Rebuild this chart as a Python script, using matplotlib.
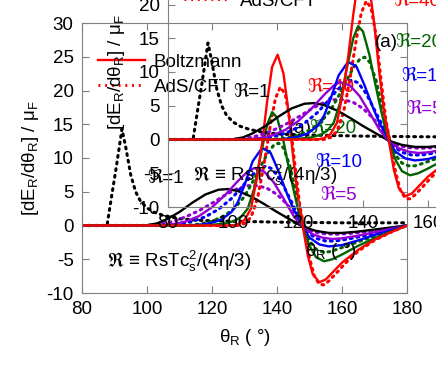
import numpy as np
import matplotlib
matplotlib.use("Agg")
import matplotlib.pyplot as plt

plt.rcParams['font.family'] = ['Liberation Sans', 'DejaVu Sans']
plt.rcParams['mathtext.fontset'] = 'custom'
plt.rcParams['mathtext.rm'] = 'Liberation Sans'
plt.rcParams['mathtext.it'] = 'Liberation Sans'
plt.rcParams['mathtext.fallback'] = 'stixsans'
plt.rcParams['axes.unicode_minus'] = False

# Boltzmann (solid)
x_b1 = [80, 95, 100, 103, 106, 110, 114, 118, 122, 125, 128, 132, 136, 140, 144, 148, 152, 156, 160, 165, 170, 175, 180]
y_b1 = [0, 0, 0.05, 0.3, 0.9, 2.0, 3.4, 4.6, 5.3, 5.4, 5.1, 4.3, 3.2, 2.0, 0.9, -0.2, -0.8, -1.1, -1.1, -0.9, -0.6, -0.3, 0]
x_b5 = [80, 104, 108, 112, 116, 120, 124, 128, 131, 133, 136, 139, 142, 145, 148, 151, 154, 157, 160, 165, 170, 175, 180]
y_b5 = [0, 0, 0.2, 0.6, 1.4, 2.7, 4.5, 6.6, 8.0, 8.5, 8.0, 6.4, 4.0, 1.5, -0.3, -1.3, -1.8, -2.0, -1.9, -1.5, -1.0, -0.5, 0]
x_b10 = [80, 112, 116, 120, 123, 126, 128, 130, 132.5, 135.4, 138, 140.5, 143, 145, 147, 148, 150, 153, 156, 160, 165, 170, 175, 180]
y_b10 = [0, 0, 0.1, 0.4, 0.9, 2.0, 3.5, 6.0, 9.5, 11.5, 10.8, 8.0, 4.8, 2.5, 0.8, -0.3, -1.8, -2.8, -3.1, -2.9, -2.2, -1.4, -0.7, 0]
x_b20 = [80, 116, 120, 124, 127, 129, 131, 133, 135, 137, 138.5, 140, 142, 143, 145, 147, 148, 150, 152, 154.5, 157, 160, 165, 170, 175, 180]
y_b20 = [0, 0, 0.1, 0.3, 0.7, 1.3, 2.5, 5.5, 10.5, 15.0, 16.8, 16.0, 12.5, 10.0, 5.5, 1.3, -0.3, -3.0, -4.7, -5.3, -5.0, -4.3, -3.0, -1.9, -0.9, 0]
x_b40 = [80, 126, 128, 130, 132, 134, 135.5, 137, 138.5, 140.2, 142, 143.5, 145, 146.5, 148, 149.5, 151, 153, 155, 157, 160, 165, 170, 175, 180]
y_b40 = [0, 0, 0.2, 0.8, 2.5, 7.5, 12.5, 18.5, 23.5, 25.3, 22.5, 17.0, 10.0, 4.0, -0.3, -4.5, -7.2, -8.4, -8.0, -7.0, -5.5, -3.6, -2.1, -1.0, 0]

# AdS/CFT (dotted)
x_a1 = [80, 87.7, 89, 90.5, 92.3, 93.5, 95, 96.5, 98, 100, 102, 105, 110, 115, 120, 130, 140, 150, 160, 170, 180]
y_a1 = [0, 0, 4, 8.5, 14.3, 11.5, 7.5, 5.0, 3.6, 2.6, 2.0, 1.5, 1.0, 0.8, 0.7, 0.6, 0.5, 0.45, 0.4, 0.4, 0.4]
x_a5 = [80, 100, 104, 108, 112, 116, 120, 124, 128, 131, 134, 137, 140, 143, 146, 148.3, 151, 154, 158, 162, 166, 170, 175, 180]
y_a5 = [0, 0, 0.2, 0.6, 1.3, 2.2, 3.3, 4.5, 5.5, 5.9, 5.9, 5.5, 4.6, 3.2, 1.4, -0.3, -0.9, -1.2, -1.3, -1.2, -1.0, -0.8, -0.4, 0]
x_a10 = [80, 106, 110, 114, 118, 122, 126, 129, 132, 134.5, 136.5, 138.5, 141, 143, 145, 147, 148.3, 150, 152, 155, 158, 162, 166, 170, 175, 180]
y_a10 = [0, 0, 0.2, 0.6, 1.3, 2.4, 4.0, 5.6, 7.3, 8.4, 8.8, 8.4, 6.8, 4.9, 3.0, 1.0, -0.3, -1.2, -1.9, -2.3, -2.3, -2.0, -1.6, -1.2, -0.6, 0]
x_a20 = [80, 112, 116, 120, 124, 127, 130, 133, 135, 137, 139, 140.5, 142, 144, 146, 148.3, 150, 152, 154, 156, 158, 161, 165, 170, 175, 180]
y_a20 = [0, 0, 0.2, 0.6, 1.5, 2.6, 4.3, 6.9, 8.8, 10.6, 11.9, 12.2, 11.5, 8.8, 4.6, -0.3, -2.3, -3.5, -3.9, -3.9, -3.6, -3.1, -2.4, -1.6, -0.8, 0]
x_a40 = [80, 128, 130, 132, 134, 136, 138, 139.5, 141, 142.5, 144, 145.5, 147, 148.3, 150, 151.5, 153, 154.5, 156, 158, 161, 165, 170, 175, 180]
y_a40 = [0, 0, 0.3, 1.2, 4.0, 9.0, 15.0, 18.8, 20.5, 19.5, 15.5, 9.0, 3.0, -0.3, -4.8, -7.5, -8.7, -8.8, -8.2, -7.2, -5.6, -3.8, -2.2, -1.0, 0]

colors = {'1': 'black', '5': '#9400d3', '10': '#0000ff', '20': '#006400', '40': '#ff0000'}
solid = [('1', x_b1, y_b1), ('5', x_b5, y_b5), ('10', x_b10, y_b10), ('20', x_b20, y_b20), ('40', x_b40, y_b40)]
dotted = [('1', x_a1, y_a1), ('5', x_a5, y_a5), ('10', x_a10, y_a10), ('20', x_a20, y_a20), ('40', x_a40, y_a40)]

# R label positions (data coords, left edge)
labels = [('ℜ=1', 100, 7.0, '1'), ('ℜ=40', 149.2, 20.5, '40'), ('ℜ=20', 149.8, 14.4, '20'),
          ('ℜ=10', 151.7, 9.3, '10'), ('ℜ=5', 153.2, 4.5, '5')]

FS = 13.5
GRAY = '#808080'
DOT = (0, (0.6, 1.6))


def draw(ax):
    for k, x, y in dotted:
        ax.plot(x, y, color=colors[k], lw=2.2, ls=DOT, dash_capstyle='round')
    for k, x, y in solid:
        ax.plot(x, y, color=colors[k], lw=1.7)
    ax.plot([], [], color='red', lw=1.7, label='Boltzmann')
    ax.plot([], [], color='red', lw=2.2, ls=DOT, label='AdS/CFT')
    ax.set_xlim(80, 180)
    ax.set_ylim(-10, 30)
    ax.set_xticks(np.arange(80, 181, 20))
    ax.set_yticks(np.arange(-10, 31, 5))
    ax.tick_params(direction='in', top=True, right=True, length=5, color=GRAY,
                   labelsize=FS, pad=6)
    for s in ax.spines.values():
        s.set_color(GRAY)
    ax.set_xlabel('θ$_\\mathrm{R}$ ( °)', fontsize=FS, labelpad=6)
    ax.set_ylabel('[dE$_\\mathrm{R}$/dθ$_\\mathrm{R}$] / μ$_\\mathrm{F}$', fontsize=FS, labelpad=4)
    ax.legend(loc='upper left', bbox_to_anchor=(0.01, 0.935), frameon=False, fontsize=FS,
              handlelength=2.5, handletextpad=0.45, labelspacing=0.42, borderaxespad=0.3)
    for t, x, y, k in labels:
        ax.text(x, y, t, color=colors[k], fontsize=FS, va='center', ha='left')
    ax.text(143.7, 14.4, '(a)', fontsize=FS, va='center', ha='left')
    ax.text(87.7, -5.4, '$\\Re$ ≡ RsTc$_\\mathrm{s}^\\mathrm{2}$/(4η/3)', fontsize=FS, va='center', ha='left')
    ax.patch.set_alpha(0)


W, H = 436, 374
fig = plt.figure(figsize=(W / 100, H / 100), dpi=100)
l, b, w, h = 82 / W, (H - 293) / H, 325 / W, 270 / H
ax1 = fig.add_axes([l, b, w, h])
draw(ax1)
ax2 = fig.add_axes([l + 86 / W, b + 86 / H, w, h])
draw(ax2)
fig.savefig('out.png', dpi=100)
